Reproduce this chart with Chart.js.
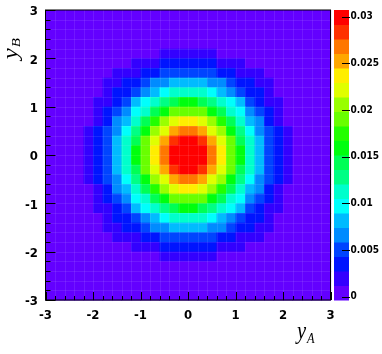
<!DOCTYPE html>
<html>
<head>
<meta charset="utf-8">
<script src="https://cdn.jsdelivr.net/npm/chart.js@4/dist/chart.umd.min.js"></script>
<style>
  html, body { margin: 0; background: #fff; }
  canvas { display: block; }
</style>
</head>
<body>
<canvas id="c" width="382" height="354"></canvas>
<script>
// 30 x 30 bins of 0.2 on both axes
const binEdges = [-3, -2.8, -2.6, -2.4, -2.2, -2, -1.8, -1.6, -1.4, -1.2, -1, -0.8, -0.6, -0.4, -0.2,
  0, 0.2, 0.4, 0.6, 0.8, 1, 1.2, 1.4, 1.6, 1.8, 2, 2.2, 2.4, 2.6, 2.8, 3];
const xTicks = [-3, -2, -1, 0, 1, 2, 3];
const yTicks = [-3, -2, -1, 0, 1, 2, 3];
const zTicks = [0, 0.005, 0.01, 0.015, 0.02, 0.025, 0.03];
const zMin = -0.00035;
const zMax = 0.0307;
const nLevels = 20;

// bin contents x 1e-4, first row is the top one (y_B 2.8..3), columns go left to right
const contents = [
  [0,0,0,0,0,0,0,0,0,0,0,0,0,0,0,0,0,0,0,0,0,0,0,0,0,0,0,0,0,0],
  [0,0,0,0,0,0,0,0,0,0,0,0,0,0,0,0,0,0,0,0,0,0,0,0,0,0,0,0,0,0],
  [0,0,0,0,0,0,0,0,0,0,0,0,0,0,0,0,0,0,0,0,0,0,0,0,0,0,0,0,0,0],
  [0,0,0,0,0,0,0,0,0,0,0,0,0,0,0,0,0,0,0,0,0,0,0,0,0,0,0,0,0,0],
  [0,0,0,0,0,0,0,0,0,0,0,0,20,20,20,20,20,20,0,0,0,0,0,0,0,0,0,0,0,0],
  [0,0,0,0,0,0,0,0,0,20,20,20,35,35,35,35,35,35,20,20,20,0,0,0,0,0,0,0,0,0],
  [0,0,0,0,0,0,0,20,20,20,35,35,51,51,51,51,51,51,35,35,20,20,20,0,0,0,0,0,0,0],
  [0,0,0,0,0,0,20,20,35,35,51,66,66,82,82,82,82,66,66,51,35,35,20,20,0,0,0,0,0,0],
  [0,0,0,0,0,0,20,35,35,51,66,82,97,113,113,113,113,97,82,66,51,35,35,20,0,0,0,0,0,0],
  [0,0,0,0,0,20,20,35,51,82,97,113,128,144,160,160,144,128,113,97,82,51,35,20,20,0,0,0,0,0],
  [0,0,0,0,0,20,35,51,66,97,113,144,160,191,191,191,191,160,144,113,97,66,51,35,20,0,0,0,0,0],
  [0,0,0,0,0,20,35,66,82,113,144,175,206,222,237,237,222,206,175,144,113,82,66,35,20,0,0,0,0,0],
  [0,0,0,0,20,35,51,66,97,128,160,206,222,253,268,268,253,222,206,160,128,97,66,51,35,20,0,0,0,0],
  [0,0,0,0,20,35,51,82,113,144,191,222,253,284,299,299,284,253,222,191,144,113,82,51,35,20,0,0,0,0],
  [0,0,0,0,20,35,51,82,113,160,191,237,268,299,299,299,299,268,237,191,160,113,82,51,35,20,0,0,0,0],
  [0,0,0,0,20,35,51,82,113,160,191,237,268,299,299,299,299,268,237,191,160,113,82,51,35,20,0,0,0,0],
  [0,0,0,0,20,35,51,82,113,144,191,222,253,284,299,299,284,253,222,191,144,113,82,51,35,20,0,0,0,0],
  [0,0,0,0,20,35,51,66,97,128,160,206,222,253,268,268,253,222,206,160,128,97,66,51,35,20,0,0,0,0],
  [0,0,0,0,0,20,35,66,82,113,144,175,206,222,237,237,222,206,175,144,113,82,66,35,20,0,0,0,0,0],
  [0,0,0,0,0,20,35,51,66,97,113,144,160,191,191,191,191,160,144,113,97,66,51,35,20,0,0,0,0,0],
  [0,0,0,0,0,20,20,35,51,82,97,113,128,144,160,160,144,128,113,97,82,51,35,20,20,0,0,0,0,0],
  [0,0,0,0,0,0,20,35,35,51,66,82,97,113,113,113,113,97,82,66,51,35,35,20,0,0,0,0,0,0],
  [0,0,0,0,0,0,20,20,35,35,51,66,66,82,82,82,82,66,66,51,35,35,20,20,0,0,0,0,0,0],
  [0,0,0,0,0,0,0,20,20,20,35,35,51,51,51,51,51,51,35,35,20,20,20,0,0,0,0,0,0,0],
  [0,0,0,0,0,0,0,0,0,20,20,20,35,35,35,35,35,35,20,20,20,0,0,0,0,0,0,0,0,0],
  [0,0,0,0,0,0,0,0,0,0,0,0,20,20,20,20,20,20,0,0,0,0,0,0,0,0,0,0,0,0],
  [0,0,0,0,0,0,0,0,0,0,0,0,0,0,0,0,0,0,0,0,0,0,0,0,0,0,0,0,0,0],
  [0,0,0,0,0,0,0,0,0,0,0,0,0,0,0,0,0,0,0,0,0,0,0,0,0,0,0,0,0,0],
  [0,0,0,0,0,0,0,0,0,0,0,0,0,0,0,0,0,0,0,0,0,0,0,0,0,0,0,0,0,0],
  [0,0,0,0,0,0,0,0,0,0,0,0,0,0,0,0,0,0,0,0,0,0,0,0,0,0,0,0,0,0]
];

// pick a condensed sans if there is one (the labels in the original are narrow)
function pickFont(list) {
  const c = document.createElement('canvas').getContext('2d');
  c.font = 'bold 40px monospace';
  const base = c.measureText('0.025-123').width;
  for (const f of list) {
    c.font = 'bold 40px "' + f + '", monospace';
    if (c.measureText('0.025-123').width !== base) return f;
  }
  return 'Liberation Sans';
}
const sans = pickFont(['Liberation Sans Narrow', 'DejaVu Sans Condensed', 'Arial Narrow']);

// old ROOT "pretty palette": 50 hues from violet to red, 20 contours
function levelColor(level) {
  const idx = Math.floor((level + 0.99) * 50 / nLevels);
  return 'hsl(' + (280 - (idx + 1) * 5.6) + ',100%,50%)';
}
function levelOf(v) {
  const step = (zMax - zMin) / nLevels;
  return Math.max(0, Math.min(nLevels - 1, Math.floor((v - zMin) / step)));
}

function drawTitle(ctx, main, sub, x, y, rotate) {
  ctx.save();
  ctx.translate(x, y);
  if (rotate) { ctx.rotate(-Math.PI / 2); ctx.scale(1, 0.82); }
  else ctx.scale(0.82, 1);
  ctx.fillStyle = '#000';
  ctx.textBaseline = 'alphabetic';
  ctx.font = 'italic 25px "Liberation Serif"';
  const w1 = ctx.measureText(main).width;
  ctx.font = 'italic 15px "Liberation Serif"';
  const w2 = ctx.measureText(sub).width;
  const start = -(w1 + w2 + 1);
  ctx.font = 'italic 25px "Liberation Serif"';
  ctx.fillText(main, start, 0);
  ctx.font = 'italic 15px "Liberation Serif"';
  ctx.fillText(sub, start + w1 + 1, 4);
  ctx.restore();
}

// keep the frame where the original has it: no extra room for label overhang
function noPad(s) {
  s.paddingTop = 0; s.paddingBottom = 0; s.paddingLeft = 0; s.paddingRight = 0;
}

const colz = {
  id: 'colz',
  beforeDatasetsDraw(chart) {
    const {ctx, chartArea: a, scales: {x, y, z}} = chart;
    const n = binEdges.length;
    ctx.save();
    ctx.fillStyle = levelColor(0);
    ctx.fillRect(a.left, a.top, a.right - a.left, a.bottom - a.top);
    contents.forEach((row, j) => {
      const yTop = y.getPixelForValue(binEdges[n - 1 - j]);
      const yBot = y.getPixelForValue(binEdges[n - 2 - j]);
      row.forEach((c, k) => {
        const x0 = x.getPixelForValue(binEdges[k]);
        const x1 = x.getPixelForValue(binEdges[k + 1]);
        ctx.fillStyle = levelColor(levelOf(c * 1e-4));
        ctx.fillRect(x0, yTop, x1 - x0 + 0.6, yBot - yTop + 0.6);
      });
    });
    // faint seams between bins, as in the original rendering
    ctx.strokeStyle = 'rgba(255,255,255,0.09)';
    ctx.lineWidth = 1;
    ctx.beginPath();
    binEdges.slice(1, -1).forEach(v => {
      const px = Math.round(x.getPixelForValue(v)) + 0.5;
      ctx.moveTo(px, a.top); ctx.lineTo(px, a.bottom);
      const py = Math.round(y.getPixelForValue(v)) + 0.5;
      ctx.moveTo(a.left, py); ctx.lineTo(a.right, py);
    });
    ctx.stroke();
    // palette box
    const step = (zMax - zMin) / nLevels;
    const bx0 = a.right + 3.5, bx1 = a.right + 18.5;
    for (let L = 0; L < nLevels; L++) {
      const p0 = z.getPixelForValue(zMin + L * step);
      const p1 = z.getPixelForValue(zMin + (L + 1) * step);
      ctx.fillStyle = levelColor(L);
      ctx.fillRect(bx0, p1, bx1 - bx0, p0 - p1 + 0.5);
    }
    ctx.restore();
  },
  afterDraw(chart) {
    const {ctx, chartArea: a, scales: {x, y, z}} = chart;
    ctx.save();
    ctx.strokeStyle = '#000';
    ctx.lineWidth = 1;
    ctx.beginPath();
    binEdges.forEach(v => {
      const major = Number.isInteger(v);
      const px = Math.round(x.getPixelForValue(v)) + 0.5;
      ctx.moveTo(px, a.bottom);
      ctx.lineTo(px, a.bottom - (major ? 8 : 4));
      const py = Math.round(y.getPixelForValue(v)) + 0.5;
      ctx.moveTo(a.left, py);
      ctx.lineTo(a.left + (major ? 10 : 5), py);
    });
    const bx1 = a.right + 18.5;
    zTicks.forEach(v => {
      const py = Math.round(z.getPixelForValue(v)) + 0.5;
      ctx.moveTo(bx1 - 7, py);
      ctx.lineTo(bx1 + 1, py);
    });
    ctx.stroke();
    ctx.strokeRect(a.left, a.top, a.right - a.left, a.bottom - a.top);
    ctx.restore();

    drawTitle(ctx, 'y', 'A', a.right - 16, a.bottom + 39, false);
    drawTitle(ctx, 'y', 'B', a.left - 29, a.top + 28, true);
  }
};

const tickFont = {family: sans, size: 13, weight: 'bold'};

new Chart(document.getElementById('c'), {
  type: 'scatter',
  data: {datasets: []},
  options: {
    responsive: false,
    animation: false,
    events: [],
    layout: {padding: {top: 10, left: 0, right: 0, bottom: 0}},
    plugins: {legend: {display: false}, tooltip: {enabled: false}},
    scales: {
      x: {
        type: 'linear', position: 'bottom', min: -3, max: 3,
        grid: {display: false, drawTicks: false}, border: {display: false},
        afterBuildTicks: s => { s.ticks = xTicks.map(v => ({value: v})); },
        afterFit: s => { s.height = 54; noPad(s); },
        ticks: {color: '#000', font: tickFont, padding: 8, maxRotation: 0, autoSkip: false,
          callback: v => String(v)}
      },
      y: {
        type: 'linear', position: 'left', min: -3, max: 3,
        grid: {display: false, drawTicks: false}, border: {display: false},
        afterBuildTicks: s => { s.ticks = yTicks.map(v => ({value: v})); },
        afterFit: s => { s.width = 45.5; noPad(s); },
        ticks: {color: '#000', font: tickFont, padding: 7.5, labelOffset: 2, autoSkip: false,
          callback: v => String(v)}
      },
      z: {
        axis: 'y', type: 'linear', position: 'right', min: zMin, max: zMax,
        grid: {display: false, drawTicks: false}, border: {display: false},
        afterBuildTicks: s => { s.ticks = zTicks.map(v => ({value: v})); },
        afterFit: s => { s.width = 51.5; noPad(s); },
        ticks: {color: '#000', font: {family: sans, size: 10, weight: 'bold'}, padding: 20,
          autoSkip: false, callback: v => String(+v.toFixed(4))}
      }
    }
  },
  plugins: [colz]
});
</script>
</body>
</html>
